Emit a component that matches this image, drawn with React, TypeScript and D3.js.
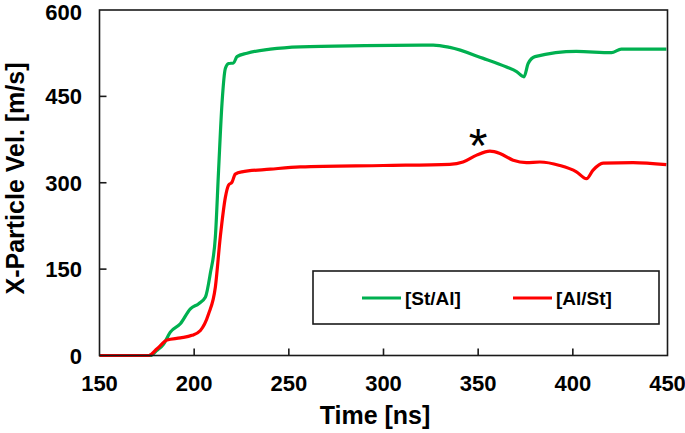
import React from "react";
import * as d3 from "d3";

const stAlTime = [150, 177, 180, 183.9, 187.4, 192.7, 198, 202.4, 205.9, 208.5, 211.2, 212.9, 214.7, 216.5, 218.2, 220.8, 222.6, 227.9, 240.2, 256, 290, 326.3, 335, 352.7, 365, 370.3, 374.2, 376.4, 380, 401.9, 420.4, 425.6, 449.4];
const stAlVel = [0, 0, 8, 20, 40.5, 55, 81, 90, 101, 142, 206, 322, 438, 499, 507, 508, 519, 525, 532, 536, 538, 539, 535, 516, 501, 493, 484, 507, 519, 528, 526, 532, 532];

const alStTime = [150, 176, 180.4, 185.7, 192.7, 198.8, 203.3, 207.6, 211.2, 213.8, 216.5, 218.2, 220, 221.7, 225.2, 240.2, 256, 300, 335, 342, 349.2, 356.2, 361.5, 368.5, 375.5, 382.6, 393.1, 401.9, 407.2, 410.7, 416, 431.8, 449.4];
const alStVel = [0, 0, 11.6, 27, 30.6, 35, 43.5, 72, 119, 206, 275, 296, 301, 315, 319, 323.5, 327.5, 330, 332, 336, 348, 355, 351, 339, 335, 336, 330, 319, 307, 322, 334, 335, 331.5];

const xTicks = [150, 200, 250, 300, 350, 400, 450];
const yTicks = [0, 150, 300, 450, 600];
const seriesNames = ["[St/Al]", "[Al/St]"];
const seriesColors = ["#00B050", "#FF0000"];

export default function App() {
  const W = 685, H = 433;
  const left = 99.5, right = 667.5, top = 10, bottom = 355.5;
  const x = d3.scaleLinear().domain([150, 450]).range([left, right]);
  const y = d3.scaleLinear().domain([0, 600]).range([bottom, top]);
  const line = d3.line<[number, number]>().x(d => x(d[0])).y(d => y(d[1])).curve(d3.curveMonotoneX);
  const green = line(stAlTime.map((t, i) => [t, stAlVel[i]]))!;
  const red = line(alStTime.map((t, i) => [t, alStVel[i]]))!;
  const font = "'Liberation Sans', Arial, sans-serif";
  return (
    <svg width={W} height={H} style={{ position: "absolute", left: 0, top: 0, background: "#fff" }} fontFamily={font}>
      <rect x={0} y={0} width={W} height={H} fill="#fff" />
      <path d={green} fill="none" stroke={seriesColors[0]} strokeWidth={3.2} strokeLinejoin="round" />
      <path d={red} fill="none" stroke={seriesColors[1]} strokeWidth={3.2} strokeLinejoin="round" />
      {/* frame */}
      <rect x={left} y={top} width={right - left} height={bottom - top} fill="none" stroke="#1a1a1a" strokeWidth={1.6} />
      {xTicks.slice(1, -1).map(t => (
        <line key={"xt" + t} x1={x(t)} x2={x(t)} y1={bottom} y2={bottom - 7} stroke="#1a1a1a" strokeWidth={1.6} />
      ))}
      {yTicks.slice(1, -1).map(v => (
        <line key={"yt" + v} x1={left} x2={left + 7} y1={y(v)} y2={y(v)} stroke="#1a1a1a" strokeWidth={1.6} />
      ))}
      {xTicks.map(t => (
        <text key={"xl" + t} x={x(t)} y={391} textAnchor="middle" fontSize={22} fontWeight="bold" fill="#000">{t}</text>
      ))}
      {yTicks.map(v => (
        <text key={"yl" + v} x={82} y={Math.max(y(v) + 8, 20)} textAnchor="end" fontSize={22} fontWeight="bold" fill="#000">{v}</text>
      ))}
      <text x={375} y={424} textAnchor="middle" fontSize={25} fontWeight="bold" fill="#000">Time [ns]</text>
      <text transform={`translate(24, 178.5) rotate(-90)`} textAnchor="middle" fontSize={25} fontWeight="bold" fill="#000">X-Particle Vel. [m/s]</text>
      {/* asterisk */}
      <text x={478} y={162} textAnchor="middle" fontSize={48} fill="#000">*</text>
      {/* legend */}
      <rect x={313} y={271} width={346} height={53} fill="#fff" stroke="#1a1a1a" strokeWidth={1.6} />
      <line x1={362} x2={401} y1={298} y2={298} stroke={seriesColors[0]} strokeWidth={3.2} />
      <text x={405} y={305} fontSize={19} fontWeight="bold" fill="#000">{seriesNames[0]}</text>
      <line x1={513} x2={552} y1={298} y2={298} stroke={seriesColors[1]} strokeWidth={3.2} />
      <text x={556} y={305} fontSize={19} fontWeight="bold" fill="#000">{seriesNames[1]}</text>
    </svg>
  );
}
